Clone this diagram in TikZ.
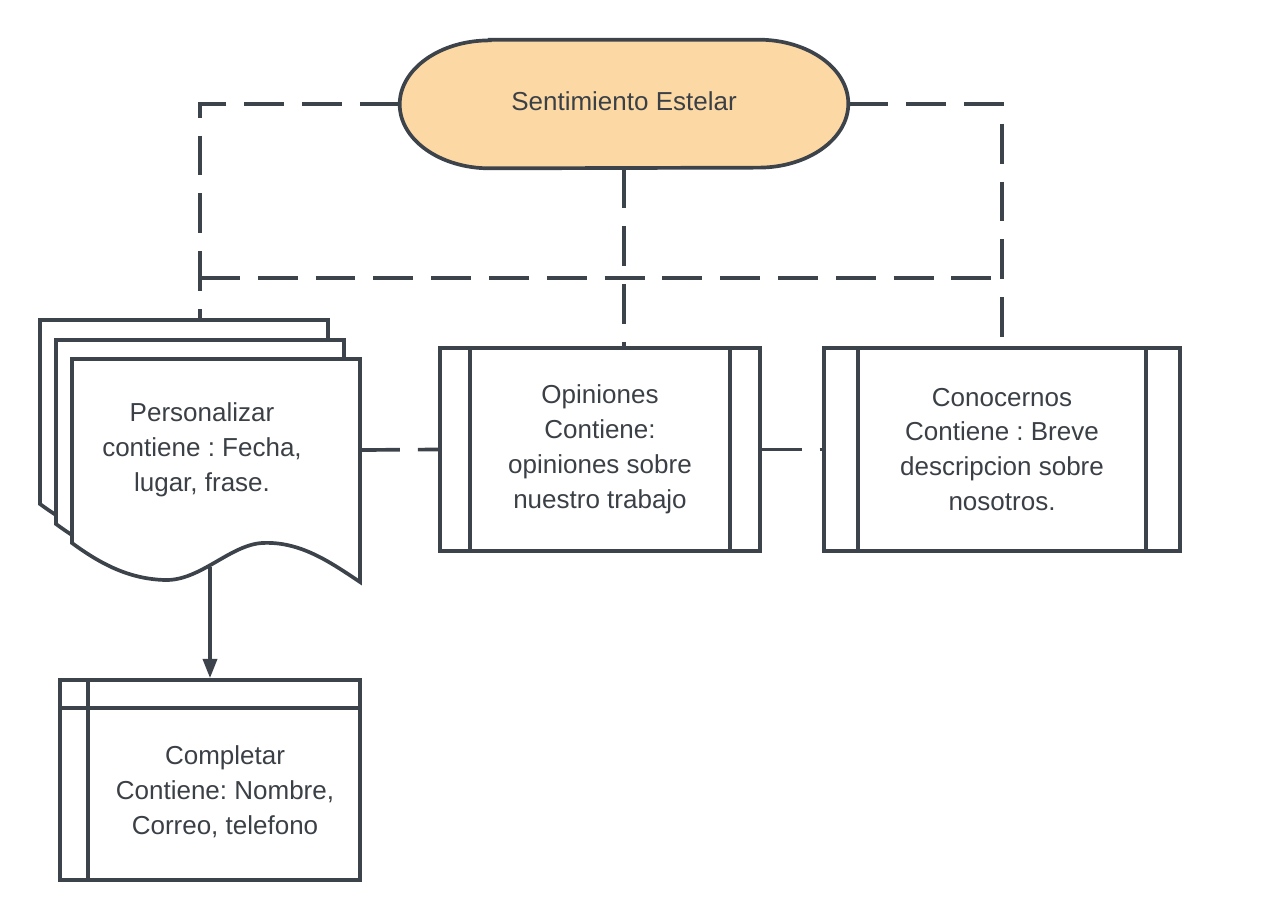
\documentclass[tikz,border=0pt]{standalone}
\usepackage{fontspec}
\setmainfont{Liberation Sans}
\frenchspacing
\usetikzlibrary{arrows.meta}
\definecolor{linec}{RGB}{61,67,74}
\definecolor{textc}{RGB}{59,64,70}
\definecolor{termfill}{RGB}{252,217,164}
\tikzset{
  line/.style={draw=linec, line width=2.1pt},
  conn/.style={line, dash pattern=on 22.7pt off 10.2pt},
  txt/.style={text=textc, align=center, font=\fontsize{14.8pt}{19.9pt}\selectfont},
  procbox/.style={line, fill=white, rectangle, inner sep=0pt, txt}
}
\newcommand\docsheet[2]{%
  \draw[line, fill=white, shift={(#1,#2)}] (0,0) -- (288,0) -- (288,223)
    .. controls (258,203) and (228,182) .. (190,184)
    .. controls (158,186) and (128,222) .. (93,221)
    .. controls (58,220) and (30,206) .. (0,184) -- cycle;}
\begin{document}
\begin{tikzpicture}[x=0.02cm, y=-0.02cm]
    \useasboundingbox (0,0) rectangle (1261,920);
    \node (term) [rectangle, minimum width=8.96cm, minimum height=2.56cm, inner sep=0pt] at (624,104) {};
    \draw[line, fill=termfill] ([xshift=1.8cm]term.north west) -- ([xshift=-1.8cm]term.north east)
      arc[start angle=90, end angle=-90, x radius=1.8cm, y radius=1.28cm]
      -- ([xshift=1.8cm]term.south west)
      arc[start angle=270, end angle=90, x radius=1.8cm, y radius=1.28cm] -- cycle;
    \node [txt] at (624,101) {Sentimiento Estelar};

    \docsheet{40}{320}
    \docsheet{56}{340}
    \docsheet{72}{359}
    \node (pers) [txt] at (202,450) {Personalizar\\contiene : Fecha,\\lugar, frase.};
    \coordinate (persT) at (200,320);
    \coordinate (persR) at (360,450);
    \coordinate (persB) at (210,567);

    \node (opin) [procbox, minimum width=6.4cm, minimum height=4.06cm] at (600,449.5)
      {Opiniones\\Contiene:\\opiniones sobre\\nuestro trabajo};
    \draw[line] ([xshift=0.64cm]opin.north west) -- ([xshift=0.64cm]opin.south west);
    \draw[line] ([xshift=-0.64cm]opin.north east) -- ([xshift=-0.64cm]opin.south east);

    \node (conoc) [procbox, minimum width=7.12cm, minimum height=4.06cm] at (1002,449.5)
      {Conocernos\\Contiene : Breve\\descripcion sobre\\nosotros.};
    \draw[line] ([xshift=0.72cm]conoc.north west) -- ([xshift=0.72cm]conoc.south west);
    \draw[line] ([xshift=-0.72cm]conoc.north east) -- ([xshift=-0.72cm]conoc.south east);

    \node (compl) [procbox, minimum width=6cm, minimum height=4cm] at (210,780) {};
    \draw[line] ([xshift=0.6cm]compl.north west) -- ([xshift=0.6cm]compl.south west);
    \draw[line] ([yshift=-0.6cm]compl.north west) -- ([yshift=-0.6cm]compl.north east);
    \node [txt] at (225,792) {Completar\\Contiene: Nombre,\\Correo, telefono};

    \coordinate (busL) at (200,278);
    \coordinate (busR) at (1001,278);
    \draw[conn] (term.west) -| (persT);
    \draw[conn] (term.south) -- (term.south |- opin.north);
    \draw[conn] (term.east) -| (conoc.north);
    \draw[conn] (busL) -- (busR);
    \draw[conn] (persR) -- (opin.west);
    \draw[conn] (opin.east) -- (conoc.west);
    \draw[line, -{Triangle[width=8pt, length=11pt]}] (persB) -- (compl.north);
\end{tikzpicture}
\end{document}
